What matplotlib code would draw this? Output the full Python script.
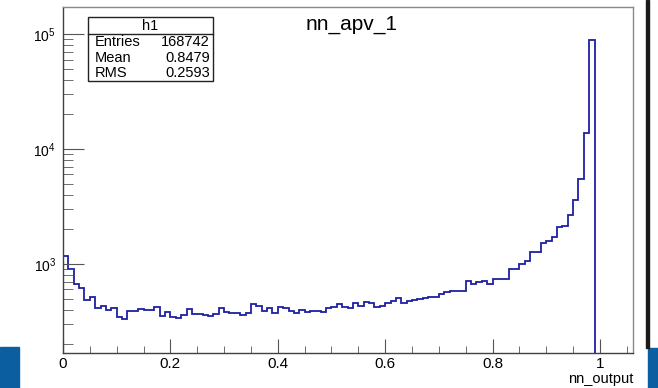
import matplotlib as mpl
mpl.use('Agg')                                  # без экрана
import matplotlib.pyplot as plt
import numpy as np
from matplotlib.ticker import FixedLocator, MultipleLocator, LogLocator, LogFormatterSciNotation, NullFormatter
from matplotlib.patches import Rectangle
from matplotlib.lines import Line2D

plt.rcParams['font.family'] = ['Liberation Sans', 'DejaVu Sans']
plt.rcParams['mathtext.default'] = 'regular'

# гистограмма nn_output, бины по 0.01 начиная с 0
bin_width = 0.01
counts = [1181, 905, 670, 615, 486, 520, 412, 434, 398, 412,
          348, 333, 390, 390, 406, 394, 394, 423, 355, 380,
          348, 340, 360, 403, 367, 367, 360, 353, 365, 412,
          385, 371, 371, 360, 371, 446, 434, 390, 412, 377,
          420, 412, 390, 374, 398, 385, 393, 393, 380, 417,
          425, 446, 425, 417, 455, 432, 470, 455, 425, 432,
          455, 477, 503, 455, 477, 486, 492, 503, 513, 520,
          548, 571, 586, 586, 586, 716, 666, 693, 716, 670,
          745, 736, 736, 905, 905, 1000, 1069, 1280, 1280, 1513,
          1595, 1727, 2085, 2137, 2650, 3603, 5460, 13700, 88700]

hist_name = "h1"
title = "nn_apv_1"
x_label = "nn_output"
stat_names = ["Entries", "Mean", "RMS"]
stat_values = ["168742", "0.8479", "0.2593"]
x_ticks = [0, 0.2, 0.4, 0.6, 0.8, 1]
x_tick_labels = ["0", "0.2", "0.4", "0.6", "0.8", "1"]

edges = np.arange(len(counts) + 1) * bin_width

W, H = 658, 388
fig = plt.figure(figsize=(W / 100, H / 100), dpi=100)
ax = fig.add_axes([63 / W, 1 - 353 / H, (633 - 63) / W, (353 - 7) / H])

ax.stairs(counts, edges, baseline=1, color='#1f1fa3', lw=1.3)   # контур как в ROOT
ax.set_yscale('log')
ax.set_xlim(0, 1.0615)
ax.set_ylim(168, 171800)

# оси
ax.xaxis.set_major_locator(FixedLocator(x_ticks))
ax.set_xticklabels(x_tick_labels)
ax.xaxis.set_minor_locator(MultipleLocator(0.05))
ax.yaxis.set_major_locator(LogLocator(base=10))
ax.yaxis.set_major_formatter(LogFormatterSciNotation())
ax.yaxis.set_minor_locator(LogLocator(base=10, subs=np.arange(2, 10)))
ax.yaxis.set_minor_formatter(NullFormatter())

ax.tick_params(which='both', direction='in', top=False, right=False, color='#555555')
ax.tick_params(axis='x', which='major', length=10, labelsize=11, pad=3)
ax.tick_params(axis='x', which='minor', length=5)
ax.tick_params(axis='y', which='major', length=15, labelsize=10, pad=5)
ax.tick_params(axis='y', which='minor', length=7)

for s in ['left', 'bottom']:
    ax.spines[s].set_color('#404040')
for s in ['top', 'right']:
    ax.spines[s].set_color('#8a8a8a')
for s in ax.spines.values():
    s.set_linewidth(1)

fig.text(352 / W, 1 - 25 / H, title, ha='center', va='center', fontsize=15)
fig.text(633 / W, 1 - 379 / H, x_label, ha='right', va='center', fontsize=10.5)

# окно статистики
fig.add_artist(Rectangle((88 / W, 1 - 81 / H), (213 - 88) / W, (81 - 17) / H,
                         transform=fig.transFigure, facecolor='white',
                         edgecolor='#222222', lw=1, zorder=5))
fig.add_artist(Line2D([88 / W, 213 / W], [1 - 34 / H] * 2, transform=fig.transFigure,
                      color='#222222', lw=1, zorder=6))
fig.text(150 / W, 1 - 25.5 / H, hist_name, ha='center', va='center', fontsize=10.5, zorder=7)
for i, (name, val) in enumerate(zip(stat_names, stat_values)):
    yy = 1 - (42 + i * 15.5) / H
    fig.text(95 / W, yy, name, ha='left', va='center', fontsize=10.5, zorder=7)
    fig.text(210 / W, yy, val, ha='right', va='center', fontsize=10.5, zorder=7)

# края слайда
fig.add_artist(Rectangle((0, 0), 19 / W, 41 / H, transform=fig.transFigure,
                         color='#0b5fa0', zorder=8))
fig.add_artist(Rectangle((648 / W, 0), 10 / W, 40 / H, transform=fig.transFigure,
                         color='#0b5fa0', zorder=8))
fig.add_artist(Rectangle((646 / W, 40 / H), 3 / W, 348 / H, transform=fig.transFigure,
                         color='#1a1a1a', zorder=8))

fig.savefig('out.png', dpi=100)
